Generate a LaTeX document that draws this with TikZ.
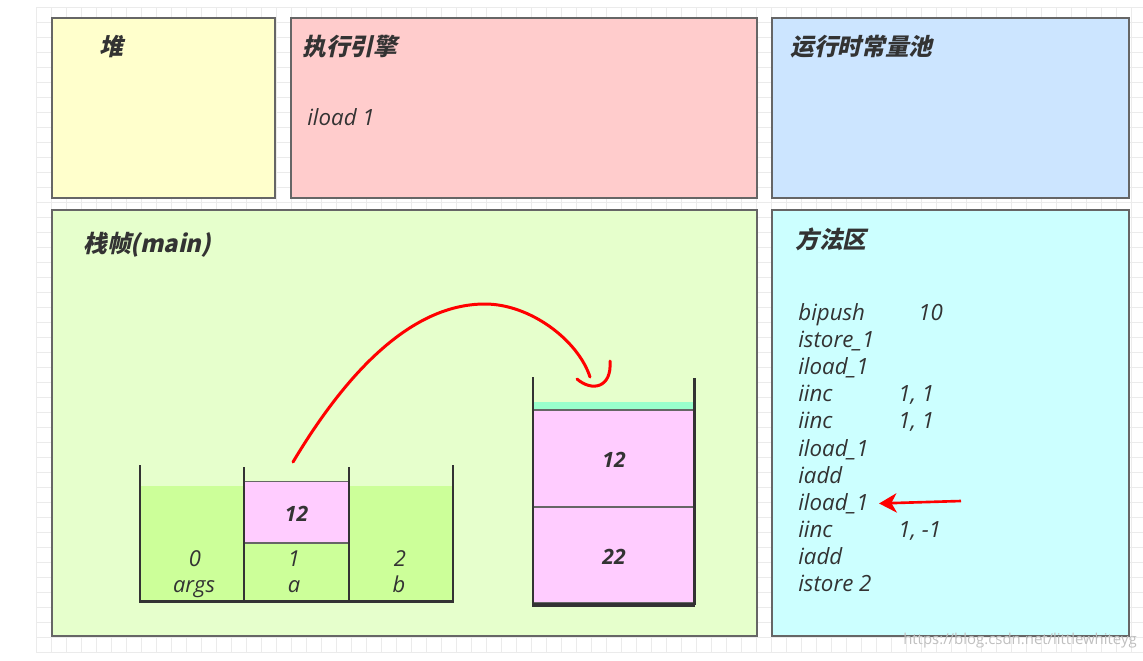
\documentclass[tikz,border=0pt]{standalone}
\usepackage{fontspec}
\setmainfont{Open Sans}
\newfontfamily\cjk[FakeSlant=0.22]{Noto Sans CJK SC}
\usetikzlibrary{arrows.meta,positioning}
\definecolor{heapbg}{HTML}{FFFFCC}
\definecolor{enginebg}{HTML}{FFCCCC}
\definecolor{poolbg}{HTML}{CCE5FF}
\definecolor{framebg}{HTML}{E6FFCC}
\definecolor{methodbg}{HTML}{CCFFFF}
\definecolor{slotbg}{HTML}{CCFF99}
\definecolor{valbg}{HTML}{FFCCFF}
\definecolor{topbg}{HTML}{99FFCC}
\definecolor{txt}{HTML}{333333}
\definecolor{edge}{HTML}{666666}
\tikzset{
    >={Stealth[]},
    gridline/.style={draw=black!8,line width=0.4pt},
    area/.style={draw=edge,line width=1pt},
    title/.style={anchor=west,inner sep=0pt,text=txt,font=\cjk\bfseries\fontsize{13.5}{16}\selectfont},
    code/.style={anchor=base west,inner sep=0pt,text=txt,font=\itshape\fontsize{12.7}{15}\selectfont},
    slot/.style={anchor=base,inner sep=0pt,text=txt,font=\itshape\fontsize{12.5}{15}\selectfont},
    value/.style={inner sep=0pt,text=txt,font=\bfseries\itshape\fontsize{12}{14}\selectfont},
    cell/.style={draw=edge,fill=valbg,line width=0.8pt},
    wall/.style={draw=txt,line width=1.7pt},
    pen/.style={draw=red,line width=1.7pt,line cap=round,line join=round},
    pointer/.style={draw=red,fill=red,line width=1.5pt,-{Stealth[length=10pt,width=11pt,inset=3pt]}},
    watermark/.style={inner sep=0pt,text=black!25,font=\fontsize{8.5}{10}\selectfont}
}
\begin{document}
\begin{tikzpicture}[x=0.02cm,y=-0.02cm]
    \useasboundingbox (0,0) rectangle (1143,660);
    % Grid
    \foreach \gx in {36,51,...,1131} \draw[gridline] (\gx,7) -- (\gx,652);
    \foreach \gy in {7,22,...,652} \draw[gridline] (36,\gy) -- (1143,\gy);

    % Areas
    \draw[area,fill=heapbg] (52,18) rectangle (275,198);
    \node[title] (heap) at (99,47) {堆};
    \draw[area,fill=enginebg] (291,18) rectangle (757,198);
    \node[title] (engine) at (302,47) {执行引擎};
    \node[code] (cur) at (307,125) {iload 1};
    \draw[area,fill=poolbg] (772,18) rectangle (1129,198);
    \node[title] (pool) at (790,47) {运行时常量池};
    \draw[area,fill=framebg] (52,210) rectangle (757,636);
    \node[title] (frame) at (83,245) {栈帧(main)};
    \draw[area,fill=methodbg] (772,210) rectangle (1129,636);
    \node[title] (method) at (795,239) {方法区};

    % Bytecode
    \foreach \op [count=\i] in {bipush,istore\_1,iload\_1,iinc,iinc,iload\_1,iadd,iload\_1,iinc,iadd,istore 2}
        \node[code] (op\i) at (798,{320.5+27.1*(\i-1)}) {\op};
    \node[code] (arg1) at (918,320.5) {10};
    \node[code] (arg4) at (898,401.8) {1, 1};
    \node[code] (arg5) at (898,428.9) {1, 1};
    \node[code] (arg9) at (898,537.3) {1, -1};
    \coordinate (tail) at (961,501);
    \draw[pointer] (tail) -- ([xshift=0.2cm]op8.east);

    % Local variables
    \fill[slotbg] (140,486) rectangle (244,601);
    \fill[slotbg] (349,486) rectangle (453,601);
    \fill[slotbg] (244,543) rectangle (349,601);
    \draw[cell] (244,481.5) rectangle (349,543);
    \node[value] (lv1) at (296.5,514) {12};
    \draw[wall] (140,465) -- (140,601) -- (453,601) -- (453,465);
    \draw[wall] (244,467) -- (244,601);
    \draw[wall] (349,467) -- (349,601);
    \node[slot] (idx0) at (195,566) {0};
    \node[slot] (name0) at (194,592) {args};
    \node[slot] (idx1) at (294,566) {1};
    \node[slot] (name1) at (294,592) {a};
    \node[slot] (idx2) at (400,566) {2};
    \node[slot] (name2) at (399,592) {b};

    % Operand stack
    \fill[topbg] (533,402) rectangle (694,410);
    \draw[cell] (533,410) rectangle (694,507);
    \draw[cell] (533,507) rectangle (694,603);
    \node[value] (top) at (614,460) {12};
    \node[value] (bot) at (614,557) {22};
    \draw[wall] (533,377) -- (533,605);
    \draw[wall] (694,378) -- (694,605);
    \draw[wall,line width=2.6pt] (532,605) -- (695,605);

    % Load stroke
    \coordinate (from) at (293,462);
    \coordinate (to) at (590,377);
    \draw[pen] (from) .. controls (345,375) and (410,304) .. (485,304)
        .. controls (530,304) and (578,340) .. (to);
    \draw[pen] (577,379) .. controls (592,392) and (612,388) .. (610,361);

    \node[watermark] (wm) at (1020,641) {https://blog.csdn.net/littlewhiteyg};
\end{tikzpicture}
\end{document}
